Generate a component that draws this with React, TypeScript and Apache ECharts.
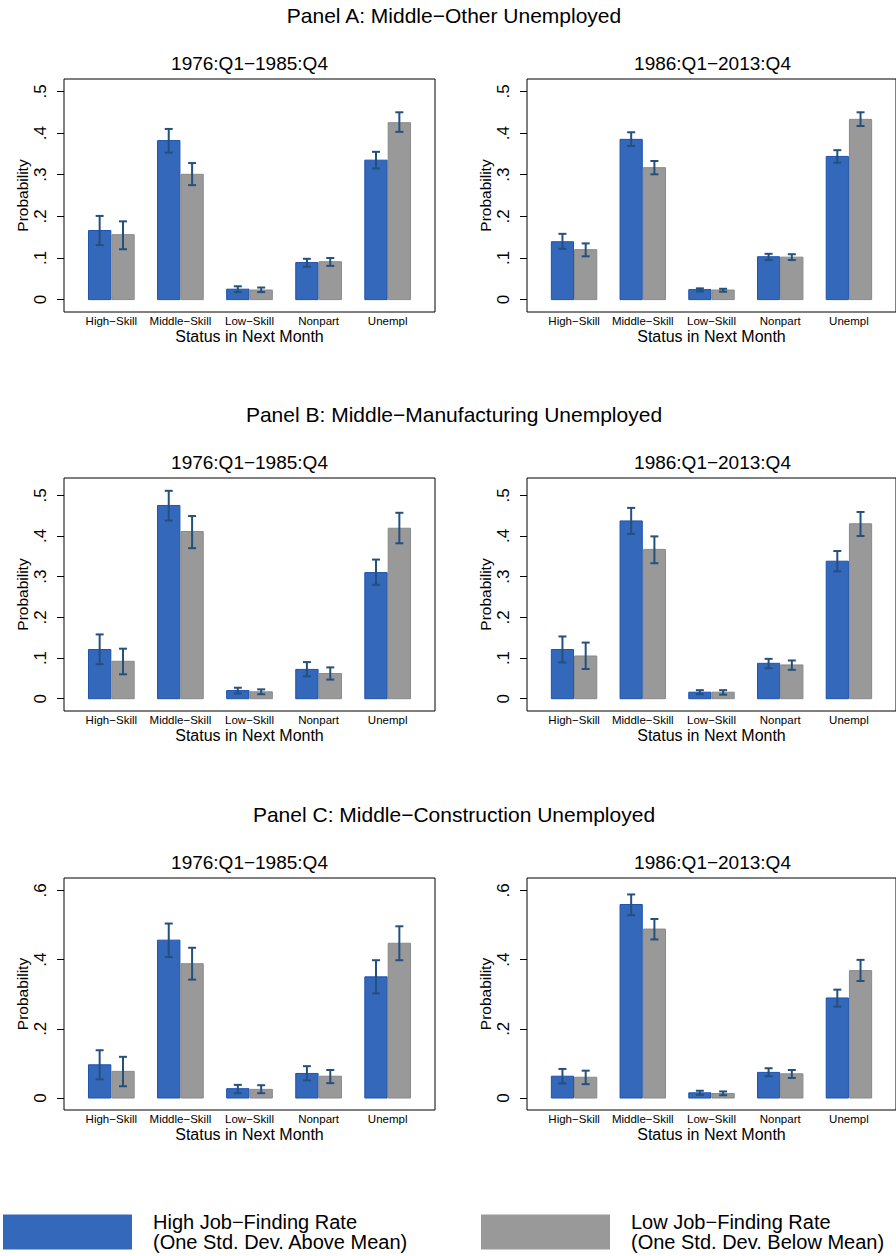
import React, { useEffect, useRef } from 'react';
import * as echarts from 'echarts';

// Outcome categories (status in the next month)
const categories = ['High−Skill', 'Middle−Skill', 'Low−Skill', 'Nonpart', 'Unempl'];

const panelTitles = [
  'Panel A: Middle−Other Unemployed',
  'Panel B: Middle−Manufacturing Unemployed',
  'Panel C: Middle−Construction Unemployed',
];
const periods = ['1976:Q1−1985:Q4', '1986:Q1−2013:Q4'];

const HIGH_NAME = 'High Job−Finding Rate (One Std. Dev. Above Mean)';
const LOW_NAME = 'Low Job−Finding Rate (One Std. Dev. Below Mean)';

// Panel A: Middle-Other unemployed
const aEarlyHigh = [0.166, 0.382, 0.025, 0.089, 0.335];
const aEarlyHighCI = [[0.131, 0.201], [0.353, 0.410], [0.018, 0.032], [0.079, 0.098], [0.315, 0.355]];
const aEarlyLow = [0.156, 0.301, 0.023, 0.091, 0.425];
const aEarlyLowCI = [[0.121, 0.188], [0.275, 0.328], [0.018, 0.029], [0.081, 0.100], [0.403, 0.450]];
const aLateHigh = [0.139, 0.385, 0.024, 0.103, 0.344];
const aLateHighCI = [[0.122, 0.158], [0.369, 0.402], [0.020, 0.027], [0.095, 0.110], [0.329, 0.359]];
const aLateLow = [0.120, 0.317, 0.023, 0.102, 0.433];
const aLateLowCI = [[0.104, 0.135], [0.301, 0.333], [0.019, 0.026], [0.095, 0.109], [0.417, 0.450]];

// Panel B: Middle-Manufacturing unemployed
const bEarlyHigh = [0.121, 0.475, 0.020, 0.072, 0.310];
const bEarlyHighCI = [[0.085, 0.158], [0.438, 0.511], [0.013, 0.027], [0.055, 0.090], [0.280, 0.342]];
const bEarlyLow = [0.092, 0.411, 0.017, 0.062, 0.419];
const bEarlyLowCI = [[0.060, 0.123], [0.370, 0.449], [0.011, 0.023], [0.047, 0.077], [0.382, 0.457]];
const bLateHigh = [0.121, 0.437, 0.016, 0.087, 0.338];
const bLateHighCI = [[0.089, 0.153], [0.405, 0.469], [0.011, 0.021], [0.075, 0.098], [0.313, 0.363]];
const bLateLow = [0.105, 0.367, 0.016, 0.083, 0.430];
const bLateLowCI = [[0.073, 0.138], [0.333, 0.399], [0.010, 0.021], [0.071, 0.094], [0.400, 0.459]];

// Panel C: Middle-Construction unemployed
const cEarlyHigh = [0.096, 0.456, 0.027, 0.071, 0.350];
const cEarlyHighCI = [[0.054, 0.138], [0.407, 0.504], [0.014, 0.038], [0.051, 0.092], [0.302, 0.398]];
const cEarlyLow = [0.077, 0.388, 0.025, 0.063, 0.447];
const cEarlyLowCI = [[0.034, 0.119], [0.342, 0.434], [0.014, 0.037], [0.043, 0.081], [0.398, 0.496]];
const cLateHigh = [0.063, 0.559, 0.015, 0.074, 0.289];
const cLateHighCI = [[0.042, 0.084], [0.528, 0.588], [0.009, 0.021], [0.063, 0.086], [0.264, 0.313]];
const cLateLow = [0.060, 0.488, 0.013, 0.070, 0.368];
const cLateLowCI = [[0.040, 0.079], [0.458, 0.517], [0.008, 0.019], [0.058, 0.081], [0.338, 0.399]];

// y-axis ticks per panel row
const ticksAB = [0, 0.1, 0.2, 0.3, 0.4, 0.5];
const ticksC = [0, 0.2, 0.4, 0.6];

const FONT = 'Liberation Sans, Arial, Helvetica, sans-serif';
const BLUE = '#3468bb';
const BLUE_EDGE = '#1d52b0';
const GRAY = '#999999';
const GRAY_EDGE = '#8a8a8a';
const ERR = '#24507d';
const BAR_W = 0.338; // bar width in category units

type Panel = {
  high: number[];
  highCI: number[][];
  low: number[];
  lowCI: number[][];
  yMin: number;
  yMax: number;
  ticks: number[];
};

const rows: Panel[][] = [
  [
    { high: aEarlyHigh, highCI: aEarlyHighCI, low: aEarlyLow, lowCI: aEarlyLowCI, yMin: -0.0298, yMax: 0.530, ticks: ticksAB },
    { high: aLateHigh, highCI: aLateHighCI, low: aLateLow, lowCI: aLateLowCI, yMin: -0.0298, yMax: 0.530, ticks: ticksAB },
  ],
  [
    { high: bEarlyHigh, highCI: bEarlyHighCI, low: bEarlyLow, lowCI: bEarlyLowCI, yMin: -0.0302, yMax: 0.5425, ticks: ticksAB },
    { high: bLateHigh, highCI: bLateHighCI, low: bLateLow, lowCI: bLateLowCI, yMin: -0.0302, yMax: 0.5425, ticks: ticksAB },
  ],
  [
    { high: cEarlyHigh, highCI: cEarlyHighCI, low: cEarlyLow, lowCI: cEarlyLowCI, yMin: -0.0346, yMax: 0.6355, ticks: ticksC },
    { high: cLateHigh, highCI: cLateHighCI, low: cLateLow, lowCI: cLateLowCI, yMin: -0.0346, yMax: 0.6355, ticks: ticksC },
  ],
];

// layout of the plot boxes
const gridTops = [79, 478, 878];
const gridHeights = [233, 233, 232];
const gridLefts = [64, 527];
const GRID_W = 371;
const headerY = [15, 414, 814];

function makeRenderer(side: number, fill: string, edge: string) {
  return (params: any, api: any) => {
    const x = api.value(0) as number;
    const v = api.value(1) as number;
    const lo = api.value(2) as number;
    const hi = api.value(3) as number;
    const left = side < 0 ? x - BAR_W : x;
    const right = side < 0 ? x : x + BAR_W;
    const tl = api.coord([left, v]);
    const br = api.coord([right, 0]);
    const cx = api.coord([(left + right) / 2, 0])[0];
    const yLo = api.coord([x, lo])[1];
    const yHi = api.coord([x, hi])[1];
    const cap = 4;
    const errStyle = { stroke: ERR, lineWidth: 2 };
    return {
      type: 'group',
      children: [
        {
          type: 'rect',
          shape: { x: tl[0] + 0.5, y: tl[1], width: br[0] - tl[0] - 1, height: br[1] - tl[1] },
          style: { fill, stroke: edge, lineWidth: 1 },
        },
        { type: 'line', shape: { x1: cx, y1: yLo, x2: cx, y2: yHi }, style: errStyle },
        { type: 'line', shape: { x1: cx - cap, y1: yLo, x2: cx + cap, y2: yLo }, style: errStyle },
        { type: 'line', shape: { x1: cx - cap, y1: yHi, x2: cx + cap, y2: yHi }, style: errStyle },
      ],
    };
  };
}

function seriesData(vals: number[], ci: number[][]) {
  return vals.map((v, i) => [i + 1, v, ci[i][0], ci[i][1]]);
}

function buildOption() {
  const grid: any[] = [];
  const xAxis: any[] = [];
  const yAxis: any[] = [];
  const series: any[] = [];
  const graphic: any[] = [];

  rows.forEach((row, r) => {
    graphic.push({
      type: 'text',
      x: 454,
      y: headerY[r],
      style: { text: panelTitles[r], align: 'center', verticalAlign: 'middle', fontSize: 21, fontFamily: FONT, fill: '#000' },
    });
    row.forEach((p, c) => {
      const idx = grid.length;
      const left = gridLefts[c];
      grid.push({
        left,
        top: gridTops[r],
        width: GRID_W,
        height: gridHeights[r],
        show: true,
        borderColor: '#000',
        borderWidth: 1,
        backgroundColor: '#fff',
        containLabel: false,
      });
      graphic.push({
        type: 'text',
        x: left + GRID_W / 2,
        y: gridTops[r] - 15.5,
        style: { text: periods[c], align: 'center', verticalAlign: 'middle', fontSize: 19, fontFamily: FONT, fill: '#000' },
      });
      xAxis.push({
        type: 'value',
        gridIndex: idx,
        min: 0.315,
        max: 5.685,
        splitLine: { show: false },
        axisLine: { show: false },
        axisTick: { show: false },
        axisLabel: {
          customValues: [1, 2, 3, 4, 5],
          formatter: (v: number) => categories[Math.round(v) - 1] ?? '',
          fontSize: 11.5,
          fontFamily: FONT,
          color: '#000',
          margin: 3,
        },
        name: 'Status in Next Month',
        nameLocation: 'middle',
        nameGap: 16,
        nameTextStyle: { fontSize: 16, fontFamily: FONT, color: '#000' },
      });
      yAxis.push({
        type: 'value',
        gridIndex: idx,
        min: p.yMin,
        max: p.yMax,
        splitLine: { show: false },
        axisLine: { show: false },
        axisTick: {
          show: true,
          inside: false,
          length: 7,
          customValues: p.ticks,
          lineStyle: { color: '#000', width: 1 },
        },
        axisLabel: {
          customValues: p.ticks,
          rotate: 90,
          margin: 15,
          fontSize: 17,
          fontFamily: FONT,
          color: '#000',
          formatter: (v: number) => (Math.abs(v) < 1e-9 ? '0' : '.' + Math.round(v * 10)),
        },
        name: 'Probability',
        nameLocation: 'middle',
        nameGap: 34,
        nameTextStyle: { fontSize: 15.5, fontFamily: FONT, color: '#000' },
      });
      series.push({
        type: 'custom',
        name: HIGH_NAME,
        xAxisIndex: idx,
        yAxisIndex: idx,
        itemStyle: { color: BLUE, borderColor: BLUE_EDGE },
        renderItem: makeRenderer(-1, BLUE, BLUE_EDGE),
        encode: { x: 0, y: 1 },
        data: seriesData(p.high, p.highCI),
        silent: true,
      });
      series.push({
        type: 'custom',
        name: LOW_NAME,
        xAxisIndex: idx,
        yAxisIndex: idx,
        itemStyle: { color: GRAY, borderColor: GRAY_EDGE },
        renderItem: makeRenderer(1, GRAY, GRAY_EDGE),
        encode: { x: 0, y: 1 },
        data: seriesData(p.low, p.lowCI),
        silent: true,
      });
    });
  });

  const legendBase = {
    top: 1212,
    orient: 'horizontal',
    padding: 0,
    itemWidth: 129,
    itemHeight: 35,
    icon: 'rect',
    selectedMode: false,
    formatter: (name: string) => name.replace(' (', '\n('),
    textStyle: { fontSize: 20, lineHeight: 20, fontFamily: FONT, color: '#000', padding: [0, 0, 0, 16] },
  };

  return {
    animation: false,
    backgroundColor: '#fff',
    grid,
    xAxis,
    yAxis,
    series,
    graphic,
    legend: [
      { ...legendBase, left: 3, data: [HIGH_NAME] },
      { ...legendBase, left: 481, data: [LOW_NAME] },
    ],
  };
}

export default function App() {
  const ref = useRef<HTMLDivElement>(null);
  useEffect(() => {
    if (!ref.current) return;
    const chart = echarts.init(ref.current, undefined, { renderer: 'svg' });
    chart.setOption(buildOption() as any);
    return () => chart.dispose();
  }, []);
  return (
    <div
      ref={ref}
      style={{ position: 'absolute', left: 0, top: 0, width: 896, height: 1256, background: '#fff' }}
    />
  );
}
